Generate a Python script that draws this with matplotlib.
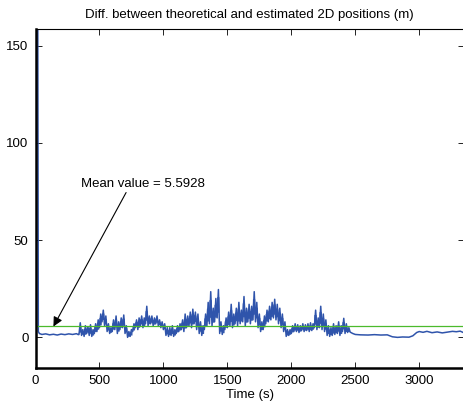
import numpy as np
import matplotlib
matplotlib.use("Agg")
import matplotlib.pyplot as plt

plt.rcParams['font.family'] = ['Liberation Sans', 'DejaVu Sans']

# ---- data ----
head_t = [0, 18, 22, 30, 50, 80, 110, 140, 170, 200, 230, 260, 290, 320, 335]
head_v = [160, 160, 3, 2, 1.5, 1.8, 1.3, 1.6, 1.2, 1.7, 1.4, 1.8, 1.5, 1.9, 1.4]

noisy_t = list(range(340, 2441, 20))
noisy_lo = [1.5, 1, 0.5, 2, 1, 0.5, 2, 3, 5, 8, 6, 3, 2, 3, 4, 2, 4, 5, 2, 0,
            0.5, 3, 5, 4, 6, 5, 7, 6, 7, 6, 7, 6, 5, 4, 1, 0.5, 1, 0.5, 2, 3,
            4, 3, 5, 6, 5, 7, 4, 2, 1, 4, 6, 7, 6, 8, 10, 2, 1.5, 4, 5, 6,
            5, 7, 6, 7, 8, 6, 8, 7, 9, 8, 5, 3, 4, 7, 8, 9, 10, 9, 7, 5,
            3, 0.5, 1, 2, 3, 3, 2.5, 3.5, 3, 3.5, 3, 3.5, 5, 4, 5, 4, 3, 1,
            0.5, 1, 1.5, 2, 1, 3, 2, 2.5]
noisy_hi = [7.5, 4, 6, 5.5, 6.5, 4, 7, 9, 12, 14, 11, 7, 5, 9, 11, 8, 10, 11.5, 6, 3,
            4, 7, 9, 10, 11, 10, 16, 11, 11, 10, 11, 9, 8, 7, 5, 5, 6, 4, 6, 7,
            9, 12, 11, 13, 14.5, 13, 12, 8, 6, 12, 18, 23.5, 15, 20, 24.6, 8, 6, 10, 13, 17,
            12, 15, 18, 14, 21, 15, 17, 16, 23.5, 18, 12, 8, 11, 14, 16, 18, 19.6, 17, 15, 12,
            8, 4, 4, 6, 7, 6.5, 6, 7, 6.5, 7, 7.5, 7, 14, 10, 16, 12, 9, 6,
            5, 7, 6, 8, 6, 9.8, 7, 5]

tail_t = [2460, 2480, 2500, 2540, 2600, 2650, 2700, 2750, 2790, 2830, 2870, 2920,
          2950, 2980, 3000, 3030, 3060, 3100, 3140, 3180, 3220, 3260, 3290, 3320, 3344]
tail_v = [2.7, 2, 1.5, 1.3, 1.2, 1.4, 1.2, 1.3, 0.3, 0, 0.2, 0.1,
          0.8, 2.5, 3, 2.6, 3.1, 2.4, 2.8, 2.3, 2.7, 3.1, 2.9, 3.2, 2.5]

mean_value = 5.5928

# ---- assemble series ----
t = list(head_t)
v = list(head_v)
for ti, lo, hi in zip(noisy_t, noisy_lo, noisy_hi):
    t += [ti, ti + 10]
    v += [lo, hi]
t += tail_t
v += tail_v

BLUE = '#2f54ab'
W, H = 463, 405
fig = plt.figure(figsize=(W / 100, H / 100), dpi=100)
left, right, top, bottom = 35.5, 464, 29, 367.7
ax = fig.add_axes([left / W, 1 - bottom / H, (right - left) / W, (bottom - top) / H])

# dense noise band
nt = np.array(noisy_t, dtype=float)
lo_a = np.array(noisy_lo, dtype=float)
hi_a = np.array(noisy_hi, dtype=float)
band_t = np.ravel(np.column_stack([nt - 4, nt + 14]))
band_lo = np.repeat(lo_a + 0.2 * (hi_a - lo_a), 2)
band_hi = np.repeat(hi_a - 0.25 * (hi_a - lo_a), 2)
ax.fill_between(band_t, band_lo, band_hi, color=BLUE, lw=0, alpha=0.95)
ax.plot(t, v, color=BLUE, lw=1.1)
ax.axhline(mean_value, color='#4cba2c', lw=0.9)

ax.set_xlim(0, 3350)
ax.set_ylim(-15.6, 158.6)
ax.set_xticks([0, 500, 1000, 1500, 2000, 2500, 3000])
ax.set_yticks([0, 50, 100, 150])
ax.tick_params(direction='in', length=4, width=0.6, labelsize=9.5,
               top=True, right=True, pad=5)
for s in ax.spines.values():
    s.set_linewidth(0.8)
ax.spines['left'].set_linewidth(1.8)
ax.spines['bottom'].set_linewidth(1.8)

ax.set_title('Diff. between theoretical and estimated 2D positions (m)', fontsize=9.5, pad=8)
ax.set_xlabel('Time (s)', fontsize=9.5, labelpad=2)

ax.annotate('Mean value = 5.5928', xy=(140, mean_value), xytext=(352, 79),
            fontsize=9.5, va='center', ha='left',
            arrowprops=dict(arrowstyle='-|>', color='black', lw=0.8,
                            mutation_scale=14, shrinkA=0, shrinkB=0,
                            relpos=(0.38, 0)))

fig.savefig('out.png', dpi=100)
